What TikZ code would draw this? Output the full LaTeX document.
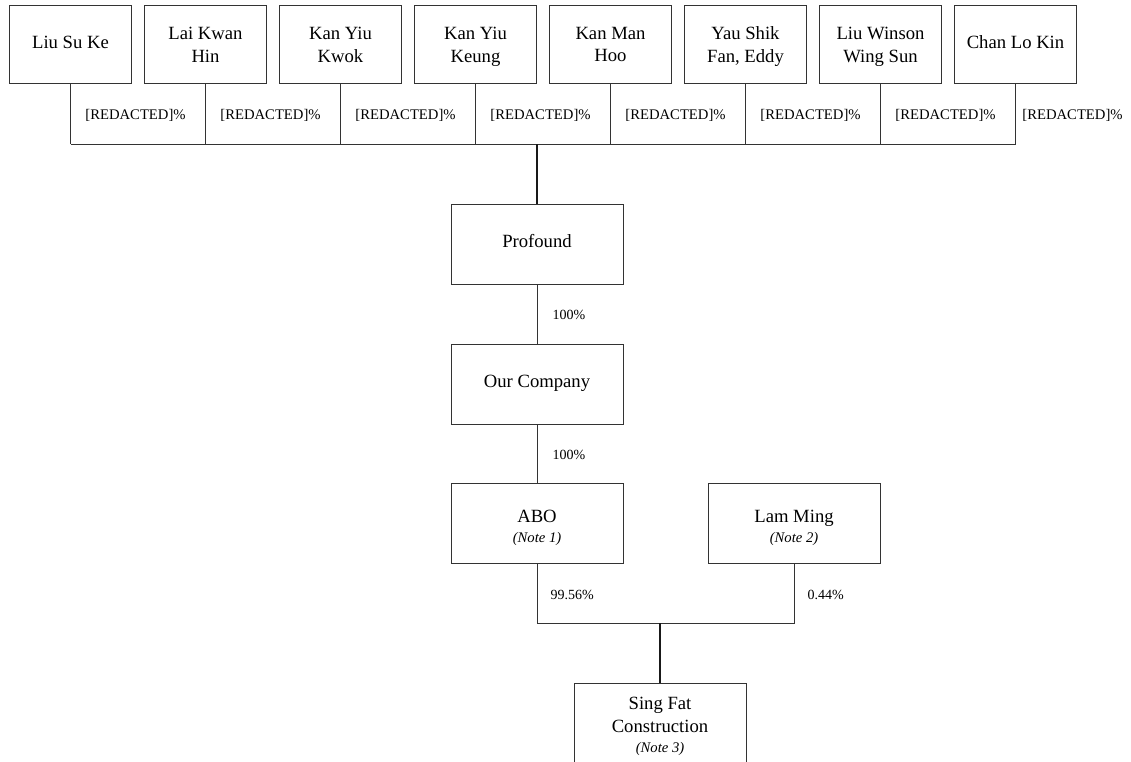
\documentclass[tikz,border=0pt]{standalone}
\usepackage{fontspec}
\setmainfont{Liberation Serif}
\usetikzlibrary{positioning}
\newcommand{\notetext}{\fontsize{11}{12}\selectfont\itshape}
\newcommand{\padtop}[1]{\rule{0pt}{#1}}

\begin{document}
\begin{tikzpicture}[x=0.75pt,y=-0.75pt,
  holder/.style={draw=black!80, line width=0.7pt, minimum width=92pt, minimum height=59pt,
    align=center, font=\fontsize{14}{17}\selectfont},
  firm/.style={holder, minimum width=129pt, minimum height=60pt},
  pct/.style={font=\fontsize{10.5}{12}\selectfont, yshift=-1pt},
  link/.style={draw=black!80, line width=0.7pt},
  trunk/.style={draw=black!90, line width=1.3pt}]

% Page frame
\useasboundingbox (0,0) rectangle (1131,761);
\clip (0,0) rectangle (1131,761);

% Shareholders
\foreach \k/\who/\sink in {1/Liu Su Ke/3pt, 2/Lai Kwan\\Hin/0pt, 3/Kan Yiu\\Kwok/0pt,
    4/Kan Yiu\\Keung/0pt, 5/Kan Man\\Hoo/0pt, 6/{Yau Shik\\Fan, Eddy}/0pt,
    7/Liu Winson\\Wing Sun/0pt, 8/Chan Lo Kin/3pt}
  \node[holder, text depth=\sink] (p\k) at ({135*\k-64.5},44.5) {\who};

% Shares to the bus
\foreach \k/\gap in {1/7.5pt, 2/7.5pt, 3/7.5pt, 4/7.5pt, 5/7.5pt, 6/7.5pt, 7/7.5pt, 8/1.5pt} {
  \coordinate (b\k) at ({135*\k-64.5},144);
  \draw[link] (p\k) -- (b\k)
    node[midway, right=\gap, pct, font=\fontsize{11}{12}\selectfont] {[REDACTED]\%};
}
\draw[link] (b1) -- (b8);
\coordinate (hub) at (537,144);

% Companies
\node[firm, text depth=4pt] (prof) at (537,244) {Profound};
\node[firm, text depth=4pt] (ourco) at (537,384) {Our Company};
\node[firm] (abo) at (537,523.5) {\padtop{15.3pt}ABO\\[-2pt]{\notetext (Note 1)}};
\node[firm] (lam) at (794,523.5) {\padtop{15.3pt}Lam Ming\\[-2pt]{\notetext (Note 2)}};
\node[firm, minimum height=63pt] (sing) at (660,725)
  {\padtop{11.7pt}Sing Fat\\Construction\\[-2pt]{\notetext (Note 3)}};

% Holdings
\draw[trunk] (hub) -- (prof);
\draw[link] (prof) -- (ourco) node[midway, right=8pt, pct] {100\%};
\draw[link] (ourco) -- (abo) node[midway, right=8pt, pct] {100\%};

\coordinate (jl) at (537,623);
\coordinate (jm) at (660,623);
\coordinate (jr) at (794,623);
\draw[link] (abo) -- node[right=6.5pt, pct] {99.56\%} (jl) -- (jr)
  -- node[right=6.5pt, pct] {0.44\%} (lam);
\draw[trunk] (jm) -- (sing);
\end{tikzpicture}
\end{document}
